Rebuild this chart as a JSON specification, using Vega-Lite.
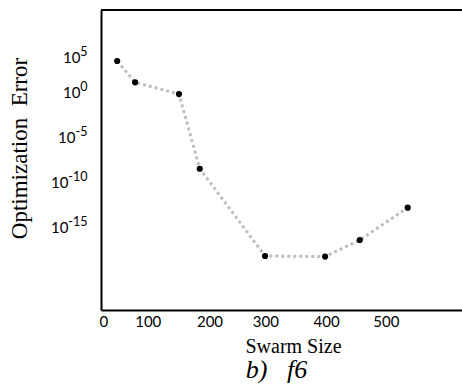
{
  "$schema": "https://vega.github.io/schema/vega-lite/v6.json",
  "autosize": "none",
  "width": 361,
  "height": 300,
  "padding": {"left": 101, "top": 10, "right": 0, "bottom": 77},
  "background": "white",
  "view": {"stroke": null},
  "title": {"text": "b)\u00a0\u00a0\u00a0f6", "orient": "bottom", "anchor": "middle", "font": "Liberation Serif", "fontStyle": "italic", "fontWeight": "normal", "fontSize": 26, "color": "black", "offset": 1, "dx": -5},
  "data": {"values": [
    {"swarm": 28, "error": 3162},
    {"swarm": 59, "error": 13.5},
    {"swarm": 135, "error": 0.676},
    {"swarm": 171, "error": 3.4e-9},
    {"swarm": 284, "error": 6.8e-19},
    {"swarm": 388, "error": 5.8e-19},
    {"swarm": 448, "error": 4.1e-17},
    {"swarm": 531, "error": 1.6e-13}
  ]},
  "encoding": {
    "x": {"field": "swarm", "type": "quantitative", "scale": {"domain": [0, 625], "nice": false, "zero": false},
      "axis": {"values": [0, 100, 200, 300, 400, 500], "title": "Swarm Size", "grid": false, "ticks": false,
        "labelOffset": {"condition": [
          {"test": "datum.value == 100", "value": -11},
          {"test": "datum.value == 200", "value": -7},
          {"test": "datum.value == 300", "value": -9},
          {"test": "datum.value == 400", "value": -6},
          {"test": "datum.value == 500", "value": -4}], "value": -2},
        "domainColor": "black", "domainWidth": 2, "labelFont": "Lato", "labelFontSize": 15, "labelColor": "black", "labelPadding": 4,
        "titleFont": "Liberation Serif", "titleFontSize": 20, "titleFontWeight": "normal", "titleColor": "black",
        "titleX": 192, "titleY": 42, "titleBaseline": "alphabetic", "titleAlign": "center"}}
  },
  "layer": [
    {"mark": {"type": "rule", "color": "black", "strokeWidth": 2},
      "encoding": {"x": null, "y": {"datum": 1.479e9, "type": "quantitative", "scale": {"type": "log", "domain": [6.76e-25, 1.479e9], "nice": false}, "axis": null}}},
    {"mark": {"type": "line", "color": "#bfbfbf", "strokeWidth": 3, "strokeDash": [3, 3]},
      "encoding": {"y": {"field": "error", "type": "quantitative", "scale": {"type": "log", "domain": [6.76e-25, 1.479e9], "nice": false},
        "axis": {"orient": "left", "values": [1e5, 1, 1e-5, 1e-10, 1e-15], "title": "Optimization\u00a0\u00a0Error", "grid": false, "ticks": false,
          "labelExpr": "'10'",
          "labelPadding": {"condition": [{"test": "datum.value < 1e-6", "value": 33}, {"test": "datum.value < 0.5", "value": 26}], "value": 21},
          "labelOffset": {"condition": {"test": "datum.value > 10", "value": 10}, "value": 0},
          "domainColor": "black", "domainWidth": 2, "labelFont": "Lato", "labelFontSize": 15, "labelColor": "black",
          "titleFont": "Liberation Serif", "titleFontSize": 23, "titleFontWeight": "normal", "titleColor": "black",
          "titleX": -82, "titleY": 138, "titleBaseline": "middle", "titleAlign": "center", "titleAngle": -90}}}},
    {"mark": {"type": "point", "filled": true, "color": "black", "size": 38, "opacity": 1},
      "encoding": {"y": {"field": "error", "type": "quantitative", "scale": {"type": "log", "domain": [6.76e-25, 1.479e9], "nice": false},
        "axis": {"orient": "left", "values": [1e5, 1, 1e-5, 1e-10, 1e-15], "title": null, "grid": false, "ticks": false, "domain": false,
          "labelExpr": "datum.value >= 1e4 ? '5' : datum.value >= 0.5 ? '0' : datum.value >= 1e-6 ? '-5' : datum.value >= 1e-11 ? '-10' : '-15'",
          "labelPadding": 14,
          "labelOffset": {"condition": {"test": "datum.value > 10", "value": 4}, "value": -6},
          "labelFont": "Lato", "labelFontSize": 12.5, "labelColor": "black"}}}}
  ],
  "resolve": {"axis": {"y": "independent"}}
}
